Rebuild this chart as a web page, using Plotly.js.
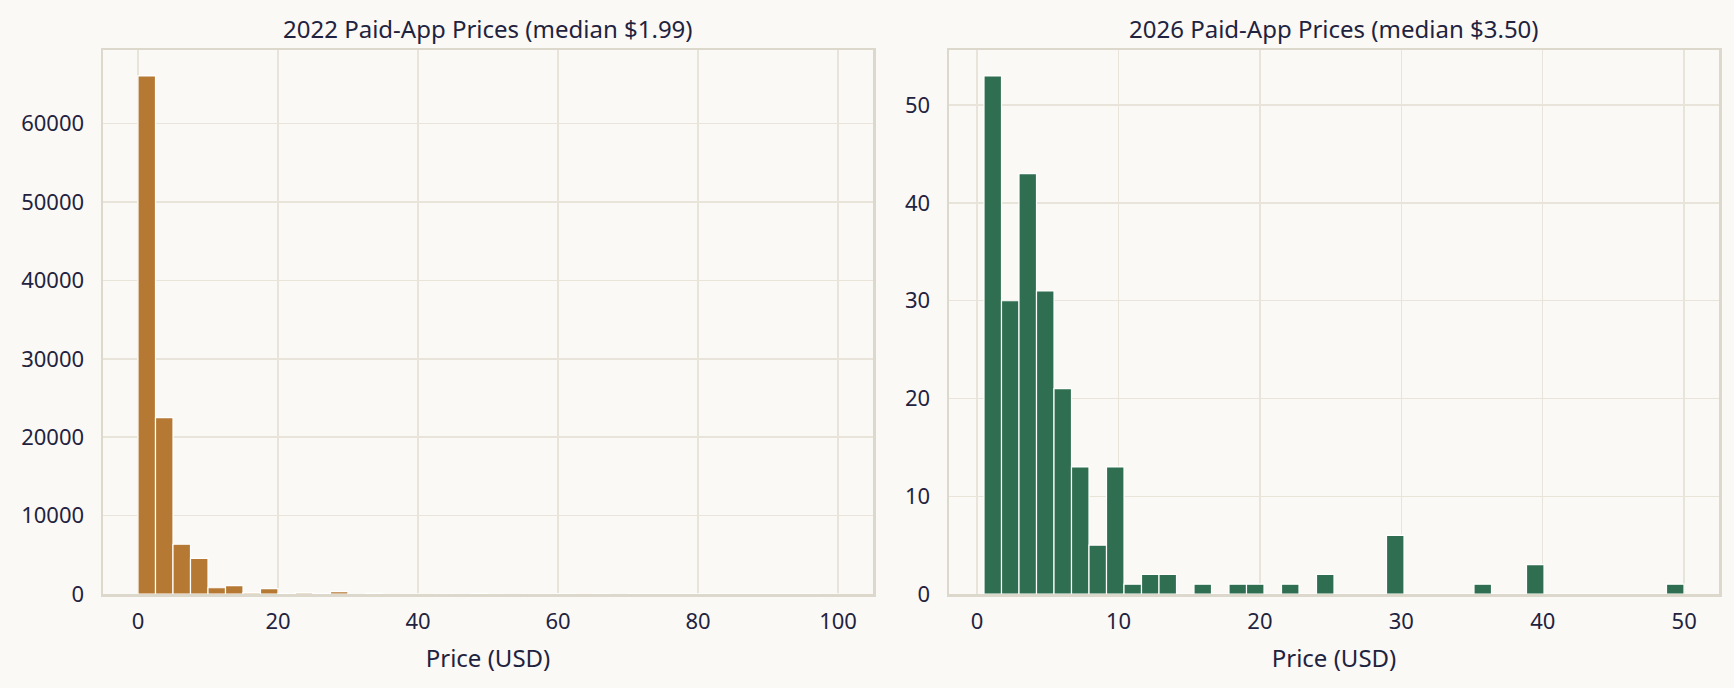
<!DOCTYPE html>
<html>
<head>
<meta charset="utf-8">
<script src="https://cdn.plot.ly/plotly-3.0.1.min.js"></script>
<style>
  html, body { margin: 0; padding: 0; background: #faf9f5; }
  #chart { width: 1734px; height: 688px; }
</style>
</head>
<body>
<div id="chart"></div>
<script>
// 2022 histogram: 40 bins of $2.50 starting at $0
let bins2022Start = 0;
let bins2022Width = 2.5;
let counts2022 = [66100, 22500, 6350, 4550, 800, 1060, 170, 680, 60, 170,
                  50, 300, 20, 90, 15, 10, 15, 40, 10, 60,
                  5, 15, 5, 40, 3, 12, 3, 15, 2, 2,
                  2, 2, 2, 0, 0, 0, 0, 0, 0, 30];

// 2026 histogram: 40 bins between $0.49 and $49.99
let bins2026Start = 0.49;
let bins2026Width = 1.2375;
let counts2026 = [53, 30, 43, 31, 21, 13, 5, 13, 1, 2,
                  2, 0, 1, 0, 1, 1, 0, 1, 0, 2,
                  0, 0, 0, 6, 0, 0, 0, 0, 1, 0,
                  0, 3, 0, 0, 0, 0, 0, 0, 0, 1];

let titles = ['2022 Paid-App Prices (median $1.99)', '2026 Paid-App Prices (median $3.50)'];
let xLabel = 'Price (USD)';

let chartDiv = document.getElementById('chart');
let fontFamily = '"Noto Sans", "Open Sans", sans-serif';
let textColor = '#1f2340';
let gridColor = '#e8e4da';
let spineColor = '#ddd8cc';

function binCenters(start, width, n) {
    let xs = [];
    for (let i = 0; i < n; i++) {
        xs[i] = start + width * (i + 0.5);
    }
    return xs;
}

let trace1 = {
    type: 'bar',
    x: binCenters(bins2022Start, bins2022Width, counts2022.length),
    y: counts2022,
    width: bins2022Width,
    marker: { color: '#b57934', line: { color: '#ffffff', width: 1.2 } },
    xaxis: 'x',
    yaxis: 'y',
    hoverinfo: 'x+y'
};

let trace2 = {
    type: 'bar',
    x: binCenters(bins2026Start, bins2026Width, counts2026.length),
    y: counts2026,
    width: bins2026Width,
    marker: { color: '#2f6e50', line: { color: '#ffffff', width: 1.2 } },
    xaxis: 'x2',
    yaxis: 'y2',
    hoverinfo: 'x+y'
};

// matplotlib-style 5% padding on x, 5% headroom on y
let lo1 = bins2022Start, hi1 = bins2022Start + bins2022Width * counts2022.length;
let lo2 = bins2026Start, hi2 = bins2026Start + bins2026Width * counts2026.length;
let pad1 = (hi1 - lo1) * 0.05, pad2 = (hi2 - lo2) * 0.05;

function xAxis(domain, range, dtick, anchor) {
    return {
        domain: domain,
        range: range,
        dtick: dtick,
        anchor: anchor,
        showgrid: true,
        gridcolor: gridColor,
        gridwidth: 1.5,
        zeroline: false,
        showline: true,
        mirror: true,
        linecolor: spineColor,
        linewidth: 2.5,
        ticks: 'outside',
        ticklen: 6,
        tickcolor: 'rgba(0,0,0,0)',
        tickfont: { size: 22, color: textColor },
        title: { text: xLabel, font: { size: 24, color: textColor }, standoff: 17 }
    };
}

function yAxis(range, dtick, anchor) {
    return {
        domain: [0, 1],
        range: range,
        dtick: dtick,
        anchor: anchor,
        tickformat: 'd',
        showgrid: true,
        gridcolor: gridColor,
        gridwidth: 1.5,
        zeroline: false,
        showline: true,
        mirror: true,
        linecolor: spineColor,
        linewidth: 2.5,
        ticks: 'outside',
        ticklen: 12,
        tickcolor: 'rgba(0,0,0,0)',
        tickfont: { size: 22, color: textColor }
    };
}

let dom1 = [103 / 1734, 873 / 1734];
let dom2 = [949 / 1734, 1719 / 1734];

let layout = {
    width: 1734,
    height: 688,
    paper_bgcolor: '#faf9f5',
    plot_bgcolor: '#faf9f5',
    font: { family: fontFamily, color: textColor },
    showlegend: false,
    bargap: 0,
    margin: { l: 0, r: 0, t: 50, b: 94 },
    xaxis: xAxis(dom1, [lo1 - pad1, hi1 + pad1], 20, 'y'),
    yaxis: yAxis([0, Math.max(...counts2022) * 1.05], 10000, 'x'),
    xaxis2: xAxis(dom2, [lo2 - pad2, hi2 + pad2], 10, 'y2'),
    yaxis2: yAxis([0, Math.max(...counts2026) * 1.05], 10, 'x2'),
    annotations: [
        {
            xref: 'paper', yref: 'paper',
            x: (dom1[0] + dom1[1]) / 2, y: 1,
            yanchor: 'bottom', xanchor: 'center', yshift: 3,
            text: titles[0], showarrow: false,
            font: { size: 24, color: textColor }
        },
        {
            xref: 'paper', yref: 'paper',
            x: (dom2[0] + dom2[1]) / 2, y: 1,
            yanchor: 'bottom', xanchor: 'center', yshift: 3,
            text: titles[1], showarrow: false,
            font: { size: 24, color: textColor }
        }
    ]
};

Plotly.newPlot(chartDiv, [trace1, trace2], layout, { staticPlot: true });
</script>
</body>
</html>
